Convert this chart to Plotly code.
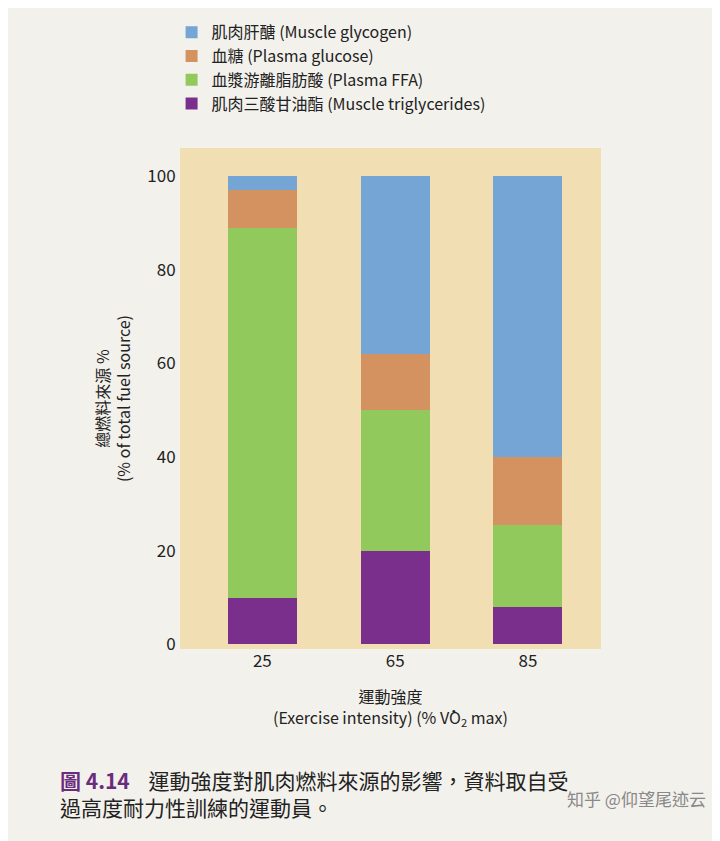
import plotly.graph_objects as go

intensity = ["25", "65", "85"]
triglycerides = [10, 20, 8]
ffa = [79, 30, 17.5]
glucose = [8, 12, 14.5]
glycogen = [3, 38, 60]

F = "Noto Sans CJK TC"
fig = go.Figure()
series = [
    ("肌肉三酸甘油酯 (Muscle triglycerides)", triglycerides, "#7b2f8c"),
    ("血漿游離脂肪酸 (Plasma FFA)", ffa, "#91c95c"),
    ("血糖 (Plasma glucose)", glucose, "#d3925f"),
    ("肌肉肝醣 (Muscle glycogen)", glycogen, "#74a5d5"),
]
for name, vals, c in series:
    fig.add_trace(go.Bar(x=intensity, y=vals, name=name, marker=dict(color=c, line=dict(width=0)), width=0.52))

fig.update_layout(
    barmode="stack", width=720, height=841,
    paper_bgcolor="#f3f1ec", plot_bgcolor="#f1dfb3",
    font=dict(family=F, size=15, color="#222"),
    margin=dict(l=172, r=127, t=140, b=200, autoexpand=False),
    legend=dict(traceorder="reversed", x=-0.02, y=1.265, xanchor="left", yanchor="top",
                bgcolor="rgba(0,0,0,0)", font=dict(size=16)),
    xaxis=dict(title=dict(text="運動強度<br>(Exercise intensity) (% V̇O<sub>2</sub> max)", font=dict(size=16), standoff=20),
               showgrid=False, tickfont=dict(size=17), ticks="", range=[-0.62, 2.55]),
    yaxis=dict(title=dict(text="總燃料來源 %<br>(% of total fuel source)", font=dict(size=16), standoff=12),
               range=[-1, 106], tickvals=[0, 20, 40, 60, 80, 100], showgrid=False, zeroline=False,
               tickfont=dict(size=17), ticks="outside", ticklen=0),
    showlegend=True,
)
fig.add_annotation(xref="paper", yref="paper", x=-0.29, y=-0.228, xanchor="left", yanchor="top",
                   showarrow=False, align="left",
                   text="<b><span style='color:#6a2c7e'>圖 4.14</span></b>    運動強度對肌肉燃料來源的影響，資料取自受<br>過高度耐力性訓練的運動員。",
                   font=dict(size=21, family=F))
fig.add_annotation(xref="paper", yref="paper", x=1.254, y=-0.327, xanchor="right", showarrow=False,
                   text="知乎 @仰望尾迹云", font=dict(size=17, color="#888", family=F))
fig.write_html("out.html")
